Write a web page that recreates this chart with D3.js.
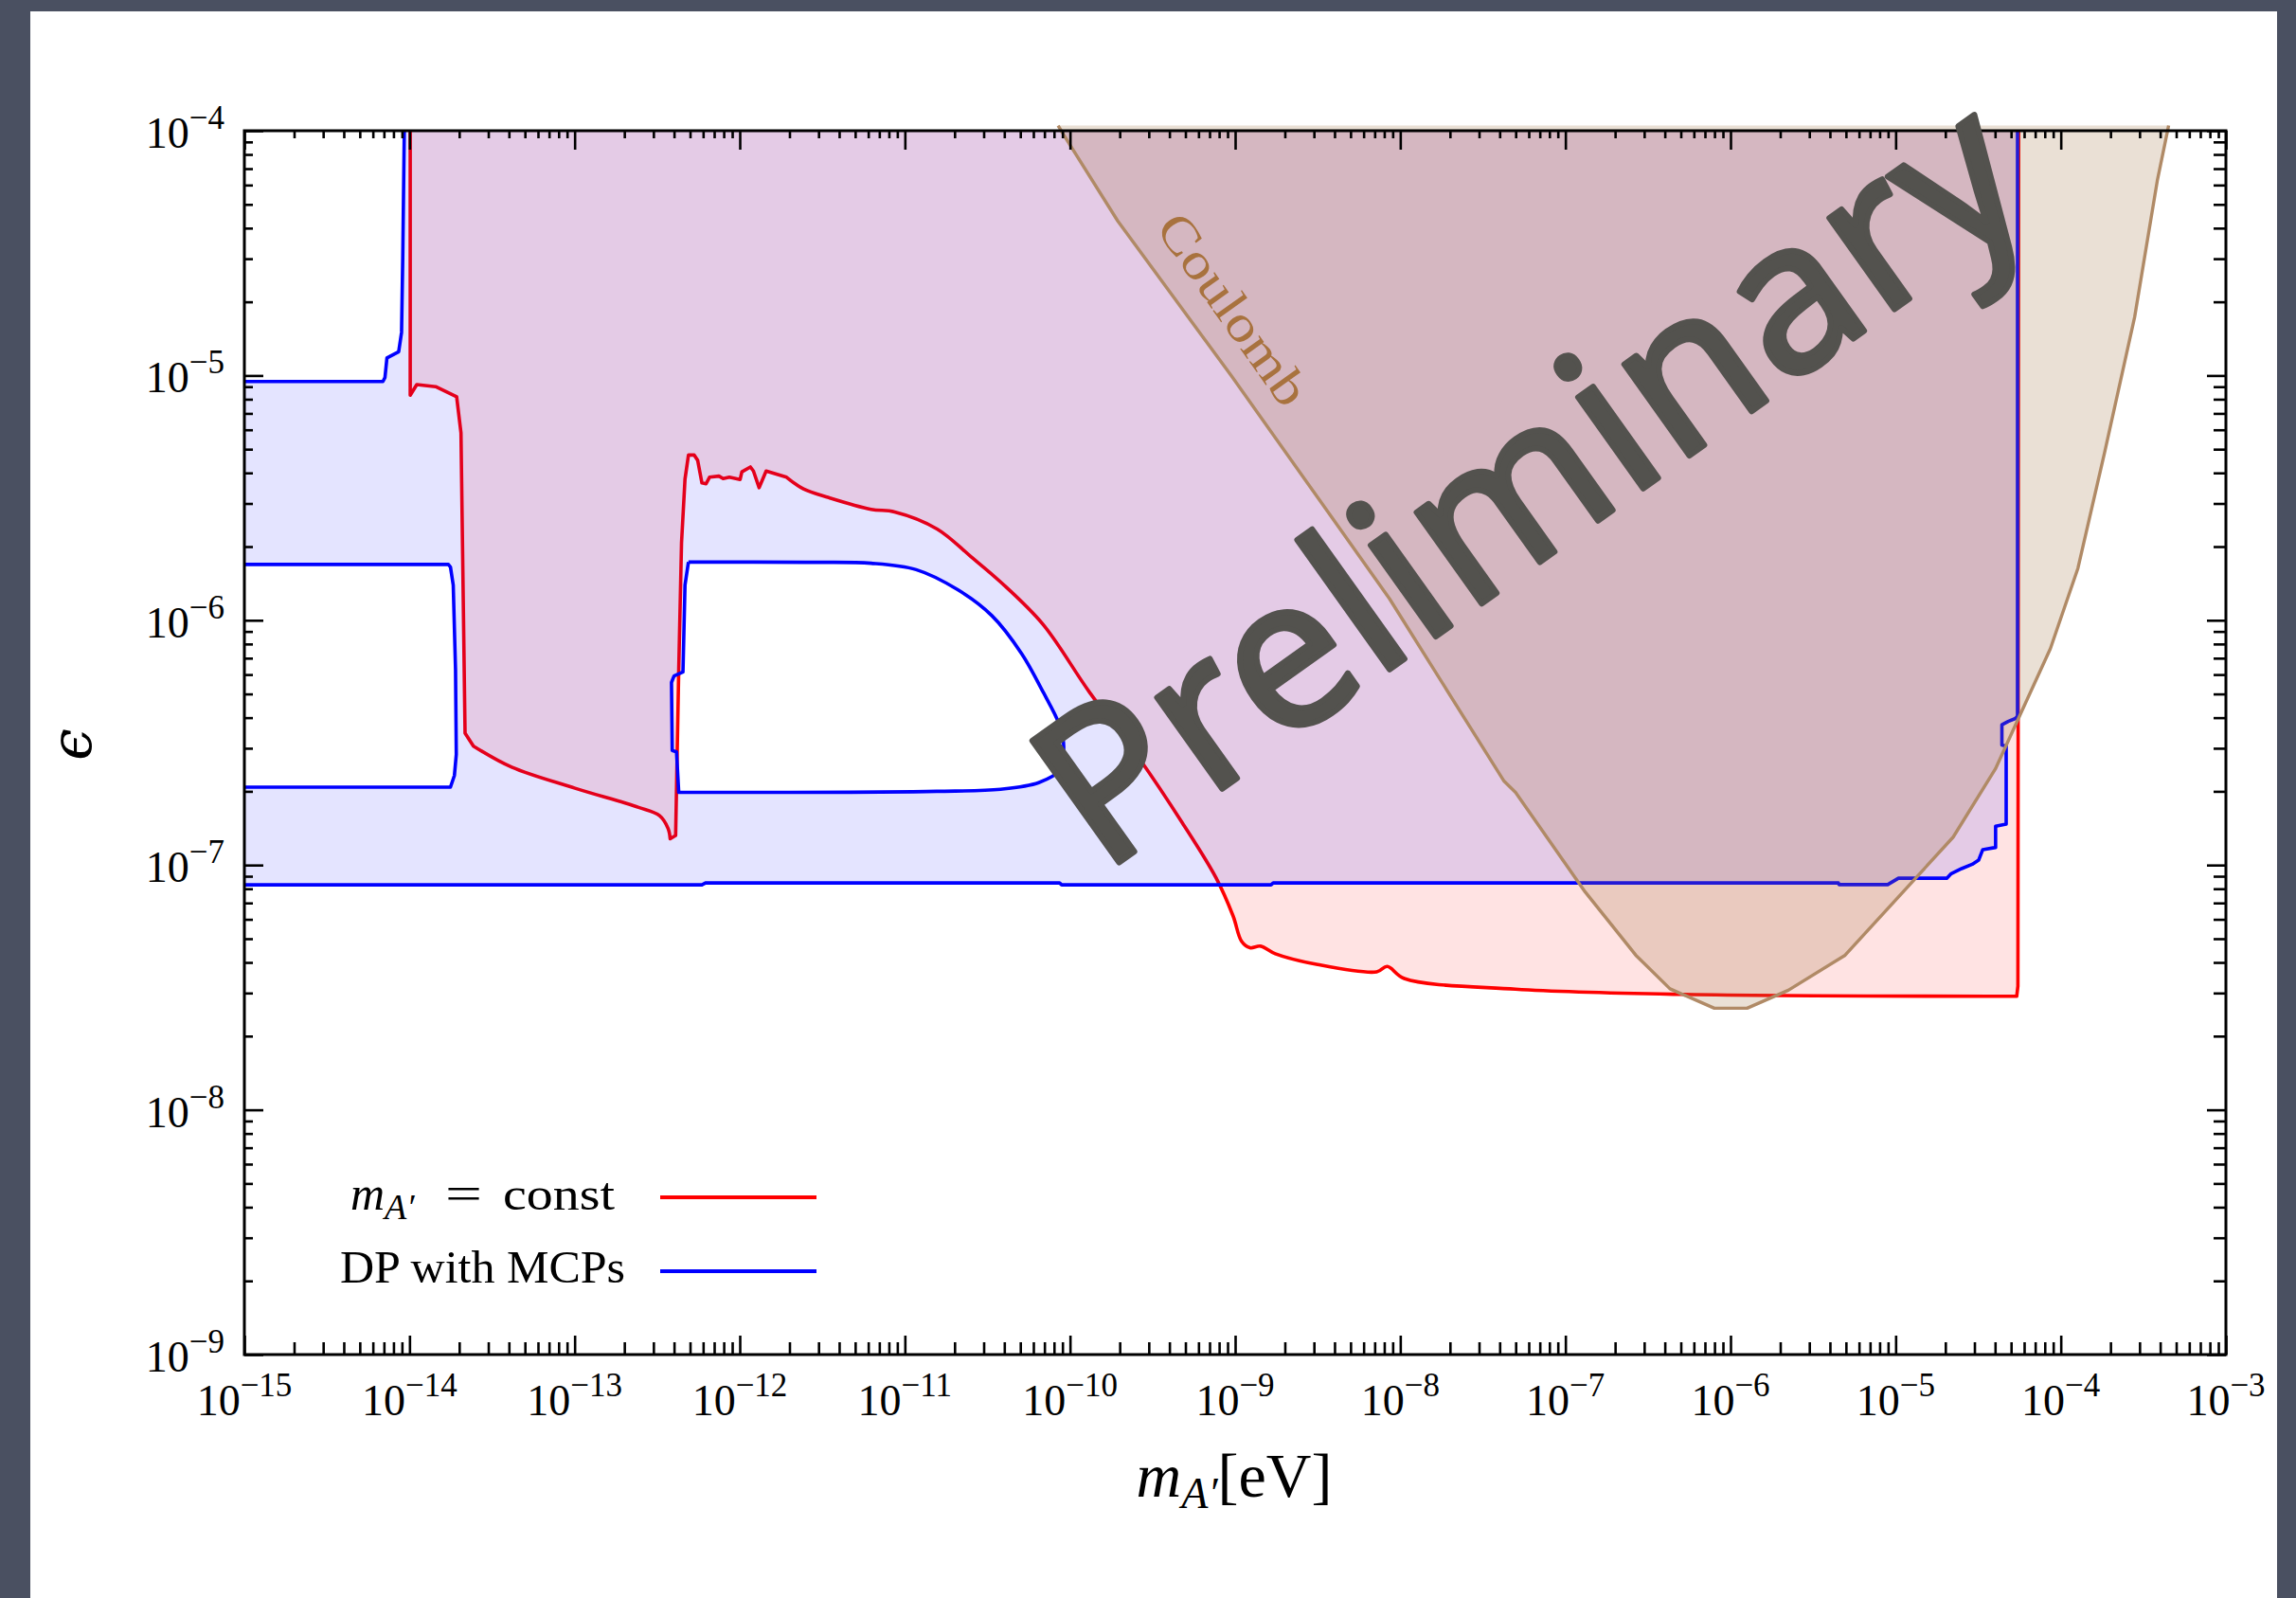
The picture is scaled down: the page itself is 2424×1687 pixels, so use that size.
<!DOCTYPE html>
<html>
<head>
<meta charset="utf-8">
<script src="https://cdn.jsdelivr.net/npm/d3@7"></script>
<style>
html, body { margin: 0; padding: 0; background: #4a5061; }
svg { display: block; }
</style>
</head>
<body>
<svg id="chart"></svg>
<script>
// axes
const xMajor = [1e-15, 1e-14, 1e-13, 1e-12, 1e-11, 1e-10, 1e-9, 1e-8, 1e-7, 1e-6, 1e-5, 1e-4, 1e-3];
const xExps = ["−15", "−14", "−13", "−12", "−11", "−10", "−9", "−8", "−7", "−6", "−5", "−4", "−3"];
const yMajor = [1e-9, 1e-8, 1e-7, 1e-6, 1e-5, 1e-4];
const yExps = ["−9", "−8", "−7", "−6", "−5", "−4"];
const minorSteps = [2, 3, 4, 5, 6, 7, 8, 9];

// m_A' = const (red), [mass eV, epsilon]
const redCurve = [
  [1.01e-14, 1e-4], [1.01e-14, 8.3e-6], [1.107e-14, 9.18e-6], [1.44e-14, 9.0e-6],
  [1.93e-14, 8.18e-6], [2.05e-14, 5.83e-6], [2.17e-14, 3.46e-7], [2.44e-14, 3.06e-7],
  [4.16e-14, 2.51e-7], [1.005e-13, 2.06e-7], [2.44e-13, 1.72e-7], [3.27e-13, 1.59e-7],
  [3.68e-13, 1.41e-7], [3.79e-13, 1.28e-7], [4.09e-13, 1.32e-7], [4.27e-13, 6.28e-7],
  [4.44e-13, 2.07e-6], [4.66e-13, 3.77e-6], [4.89e-13, 4.73e-6], [5.3e-13, 4.73e-6],
  [5.56e-13, 4.5e-6], [5.9e-13, 3.64e-6], [6.25e-13, 3.61e-6], [6.56e-13, 3.84e-6],
  [7.48e-13, 3.88e-6], [7.93e-13, 3.79e-6], [8.65e-13, 3.84e-6], [1.005e-12, 3.76e-6],
  [1.03e-12, 4.04e-6], [1.16e-12, 4.23e-6], [1.21e-12, 4.07e-6], [1.31e-12, 3.48e-6],
  [1.445e-12, 4.07e-6], [1.92e-12, 3.84e-6], [2.43e-12, 3.44e-6], [3.46e-12, 3.17e-6],
  [6.24e-12, 2.84e-6], [8.67e-12, 2.77e-6], [1.567e-11, 2.36e-6], [2.51e-11, 1.82e-6],
  [3.79e-11, 1.435e-6], [6.84e-11, 9.64e-7], [1.31e-10, 5.09e-7], [2.65e-10, 2.7e-7],
  [4.79e-10, 1.486e-7], [7.67e-10, 8.85e-8], [9.72e-10, 6.19e-8], [1.094e-9, 4.88e-8],
  [1.23e-9, 4.59e-8], [1.426e-9, 4.66e-8], [1.75e-9, 4.34e-8], [3.16e-9, 3.92e-8],
  [7.2e-9, 3.66e-8], [8.34e-9, 3.85e-8], [1.057e-8, 3.44e-8], [4.99e-8, 3.11e-8],
  [5.27e-7, 2.96e-8], [3.68e-5, 2.91e-8], [5.41e-5, 2.91e-8], [5.5e-5, 3.2e-8],
  [5.56e-5, 1e-4]
];
// which stretches of the red curve are smooth (index ranges into redCurve)
const redSmooth = [[7, 13], [33, 57]];

// DP with MCPs (blue): upper-left edge, right/bottom edge, and the two open pockets
const blueTop = [
  [1e-15, 9.45e-6], [6.9e-15, 9.45e-6], [7.1e-15, 9.8e-6], [7.3e-15, 1.18e-5],
  [8.6e-15, 1.25e-5], [8.95e-15, 1.5e-5], [9.1e-15, 3e-5], [9.3e-15, 1e-4]
];
const blueBottom = [
  [5.47e-5, 1e-4], [5.47e-5, 4.06e-7], [5.31e-5, 3.97e-7], [4.8e-5, 3.86e-7],
  [4.4e-5, 3.74e-7], [4.4e-5, 3.09e-7], [4.67e-5, 3.06e-7], [4.67e-5, 1.47e-7],
  [4.03e-5, 1.44e-7], [4.03e-5, 1.18e-7], [3.37e-5, 1.156e-7], [3.18e-5, 1.047e-7],
  [2.91e-5, 1.007e-7], [2.51e-5, 9.67e-8], [2.17e-5, 9.22e-8], [2.04e-5, 8.83e-8],
  [1.04e-5, 8.83e-8], [8.95e-6, 8.32e-8], [4.54e-6, 8.32e-8], [4.5e-6, 8.45e-8],
  [1.7e-9, 8.45e-8], [1.65e-9, 8.3e-8], [8.9e-11, 8.3e-8], [8.65e-11, 8.45e-8],
  [6.2e-13, 8.45e-8], [5.9e-13, 8.3e-8], [1e-15, 8.3e-8]
];
const blueHole1 = [
  [1e-15, 1.69e-6], [1.72e-14, 1.69e-6], [1.77e-14, 1.65e-6], [1.84e-14, 1.39e-6],
  [1.9e-14, 6.28e-7], [1.92e-14, 2.83e-7], [1.87e-14, 2.32e-7], [1.77e-14, 2.08e-7],
  [1e-15, 2.08e-7]
];
// smooth right-hand lobe, then the stepped left side
const blueHole2Curve = [
  [4.89e-13, 1.73e-6], [2.5e-12, 1.725e-6], [6.24e-12, 1.71e-6], [1.17e-11, 1.61e-6],
  [2.1e-11, 1.33e-6], [3.36e-11, 1.045e-6], [5.09e-11, 7.31e-7], [6.84e-11, 5.12e-7],
  [8.65e-11, 3.72e-7], [9.16e-11, 3.05e-7], [8.65e-11, 2.44e-7], [6.46e-11, 2.17e-7],
  [3.8e-11, 2.04e-7], [1.56e-11, 2.0e-7], [2e-12, 1.98e-7]
];
const blueHole2Steps = [
  [2e-12, 1.98e-7], [4.27e-13, 1.98e-7], [4.14e-13, 2.9e-7], [3.9e-13, 2.94e-7],
  [3.86e-13, 5.57e-7], [4.0e-13, 5.92e-7], [4.53e-13, 6.15e-7], [4.66e-13, 1.39e-6],
  [4.89e-13, 1.73e-6]
];

// Coulomb bound
const coulomb = [
  [8.47e-11, 1.05e-4], [9.62e-11, 9.12e-5], [1.945e-10, 4.28e-5], [9.49e-10, 9.97e-6],
  [3.24e-9, 3.1e-6], [8.6e-9, 1.225e-6], [4.23e-8, 2.21e-7], [4.99e-8, 1.98e-7],
  [1.318e-7, 7.76e-8], [2.67e-7, 4.28e-8], [4.3e-7, 3.12e-8], [7.98e-7, 2.6e-8],
  [1.26e-6, 2.6e-8], [2.24e-6, 3.08e-8], [4.94e-6, 4.28e-8], [2.23e-5, 1.3e-7],
  [4.02e-5, 2.47e-7], [8.65e-5, 7.66e-7], [1.27e-4, 1.63e-6], [1.84e-4, 4.83e-6],
  [2.8e-4, 1.73e-5], [3.84e-4, 6.24e-5], [4.5e-4, 1.05e-4]
];

const legendItems = [
  { label: "const", color: "#ff0000" },
  { label: "DP with MCPs", color: "#0000ff" }
];

const W = 2424, H = 1687;
const plot = { left: 258, right: 2350, top: 138, bottom: 1430 };
const serif = "'Liberation Serif', 'Times New Roman', serif";

const svg = d3.select("#chart").attr("width", W).attr("height", H);

svg.append("rect").attr("width", W).attr("height", H).attr("fill", "#4a5061");
svg.append("rect").attr("x", 32).attr("y", 12).attr("width", 2372).attr("height", H - 12).attr("fill", "#ffffff");

const x = d3.scaleLog().domain([1e-15, 1e-3]).range([plot.left, plot.right]);
const y = d3.scaleLog().domain([1e-9, 1e-4]).range([plot.bottom, plot.top]);
const line = d3.line().x(d => x(d[0])).y(d => y(d[1]));
const smooth = d3.line().x(d => x(d[0])).y(d => y(d[1])).curve(d3.curveCatmullRom.alpha(0.5));

// join straight and smooth stretches of one polyline into a single path
const mixedPath = (pts, smoothRanges) => {
  const cuts = [];
  let i = 0;
  smoothRanges.forEach(([a, b]) => {
    if (a > i) cuts.push([i, a, line]);
    cuts.push([a, b, smooth]);
    i = b;
  });
  if (i < pts.length - 1) cuts.push([i, pts.length - 1, line]);
  return cuts.map(([a, b, gen], k) => {
    const d = gen(pts.slice(a, b + 1));
    return k === 0 ? d : d.replace(/^M[^LC]*/, "");
  }).join("");
};

const defs = svg.append("defs");
defs.append("clipPath").attr("id", "plotClip")
  .append("rect").attr("x", plot.left).attr("y", plot.top)
  .attr("width", plot.right - plot.left).attr("height", plot.bottom - plot.top);
defs.append("clipPath").attr("id", "coulClip")
  .append("rect").attr("x", plot.left).attr("y", plot.top - 7)
  .attr("width", plot.right - plot.left).attr("height", plot.bottom - plot.top + 7);

const g = svg.append("g").attr("clip-path", "url(#plotClip)");

// red region
const redPath = mixedPath(redCurve, redSmooth);
g.append("path").attr("d", redPath + "Z")
  .attr("fill", "#ff0000").attr("fill-opacity", 0.11);
g.append("path").attr("d", redPath)
  .attr("fill", "none").attr("stroke", "#ff0000").attr("stroke-width", 3.6)
  .attr("stroke-linejoin", "round");

// blue region with its two pockets
const blueOuter = blueTop.concat(blueBottom);
const hole2 = smooth(blueHole2Curve) + line(blueHole2Steps).replace(/^M[^L]*/, "");
g.append("path")
  .attr("d", line(blueOuter) + "Z" + line(blueHole1) + "Z" + hole2 + "Z")
  .attr("fill", "#0000ff").attr("fill-opacity", 0.105).attr("fill-rule", "evenodd");
[line(blueTop), line(blueBottom), line(blueHole1), hole2].forEach(d => {
  g.append("path").attr("d", d)
    .attr("fill", "none").attr("stroke", "#0000ff").attr("stroke-width", 3.6)
    .attr("stroke-linejoin", "round");
});

// Coulomb
const gc = svg.append("g").attr("clip-path", "url(#coulClip)");
gc.append("path").attr("d", line(coulomb) + "Z")
  .attr("fill", "rgb(160,112,64)").attr("fill-opacity", 0.22);
gc.append("path").attr("d", line(coulomb))
  .attr("fill", "none").attr("stroke", "#b08a66").attr("stroke-width", 3.4)
  .attr("stroke-linejoin", "round");

svg.append("text")
  .attr("transform", "translate(1287,337) rotate(54.6)")
  .attr("text-anchor", "middle")
  .attr("font-family", serif).attr("font-size", 54)
  .attr("textLength", 236).attr("lengthAdjust", "spacingAndGlyphs")
  .attr("fill", "#a8723e")
  .text("Coulomb");

// axes: ticks point inward on all four sides
const minorOf = majors => majors.slice(0, -1).flatMap(m => minorSteps.map(s => m * s));
const axisStyle = sel => {
  sel.select(".domain").remove();
  sel.selectAll("line").attr("stroke", "#000").attr("stroke-width", 2.6);
  sel.selectAll("text").remove();
};
const addAxis = (axis, tr) => svg.append("g").attr("transform", tr).call(axis).call(axisStyle);

addAxis(d3.axisBottom(x).tickValues(xMajor).tickSize(-20).tickSizeOuter(0), `translate(0,${plot.bottom})`);
addAxis(d3.axisBottom(x).tickValues(minorOf(xMajor)).tickSize(-13).tickSizeOuter(0), `translate(0,${plot.bottom})`);
addAxis(d3.axisTop(x).tickValues(xMajor).tickSize(-20).tickSizeOuter(0), `translate(0,${plot.top})`);
addAxis(d3.axisTop(x).tickValues(minorOf(xMajor)).tickSize(-8).tickSizeOuter(0), `translate(0,${plot.top})`);
addAxis(d3.axisLeft(y).tickValues(yMajor).tickSize(-20).tickSizeOuter(0), `translate(${plot.left},0)`);
addAxis(d3.axisLeft(y).tickValues(minorOf(yMajor)).tickSize(-9).tickSizeOuter(0), `translate(${plot.left},0)`);
addAxis(d3.axisRight(y).tickValues(yMajor).tickSize(-20).tickSizeOuter(0), `translate(${plot.right},0)`);
addAxis(d3.axisRight(y).tickValues(minorOf(yMajor)).tickSize(-13).tickSizeOuter(0), `translate(${plot.right},0)`);

svg.append("rect")
  .attr("x", plot.left).attr("y", plot.top)
  .attr("width", plot.right - plot.left).attr("height", plot.bottom - plot.top)
  .attr("fill", "none").attr("stroke", "#000").attr("stroke-width", 3);

// tick labels
const xl = svg.append("g").selectAll("text").data(xMajor).enter().append("text")
  .attr("x", d => x(d)).attr("y", 1494)
  .attr("text-anchor", "middle").attr("font-family", serif).attr("font-size", 46).attr("fill", "#000");
xl.append("tspan").text("10");
xl.append("tspan").attr("font-size", 35).attr("dy", -20).text((d, i) => xExps[i]);

const yl = svg.append("g").selectAll("text").data(yMajor).enter().append("text")
  .attr("x", 237).attr("y", d => y(d) + 18)
  .attr("text-anchor", "end").attr("font-family", serif).attr("font-size", 46).attr("fill", "#000");
yl.append("tspan").text("10");
yl.append("tspan").attr("font-size", 35).attr("dy", -20).text((d, i) => yExps[i]);

// axis titles
const xt = svg.append("text").attr("x", 1303).attr("y", 1580)
  .attr("text-anchor", "middle").attr("font-family", serif).attr("font-size", 66).attr("fill", "#000");
xt.append("tspan").attr("font-style", "italic").text("m");
xt.append("tspan").attr("font-style", "italic").attr("font-size", 46).attr("dy", 12).text("A′");
xt.append("tspan").attr("dy", -12).text("[eV]");

svg.append("text")
  .attr("transform", "translate(96,786) rotate(-90)")
  .attr("text-anchor", "middle").attr("font-family", "'DejaVu Serif', serif").attr("font-style", "italic")
  .attr("font-size", 60).attr("fill", "#000")
  .text("ϵ");

// legend
const legY = [1264, 1342];
const legend = svg.append("g").attr("font-family", serif).attr("fill", "#000");
const lm = legend.append("text").attr("x", 370).attr("y", legY[0] + 13).attr("font-size", 50);
lm.append("tspan").attr("font-style", "italic").text("m");
lm.append("tspan").attr("font-style", "italic").attr("font-size", 38).attr("dy", 10).text("A′");
legend.append("text").attr("x", 470).attr("y", legY[0] + 13).attr("font-size", 50)
  .attr("textLength", 39).attr("lengthAdjust", "spacingAndGlyphs").text("=");
legend.append("text").attr("x", 531).attr("y", legY[0] + 13).attr("font-size", 49)
  .attr("textLength", 118).attr("lengthAdjust", "spacingAndGlyphs").text(legendItems[0].label);
legend.append("text").attr("x", 359).attr("y", legY[1] + 12).attr("font-size", 48)
  .attr("textLength", 301).attr("lengthAdjust", "spacingAndGlyphs")
  .text(legendItems[1].label);
legendItems.forEach((d, i) => {
  svg.append("line").attr("x1", 697).attr("x2", 862).attr("y1", legY[i]).attr("y2", legY[i])
    .attr("stroke", d.color).attr("stroke-width", 4);
});

// watermark
svg.append("text")
  .attr("transform", "translate(1164,923) rotate(-35.5)")
  .attr("font-family", "'Noto Sans', sans-serif").attr("font-size", 221)
  .attr("fill", "#53524e").attr("stroke", "#53524e").attr("stroke-width", 6)
  .attr("stroke-linejoin", "round")
  .attr("textLength", 1215).attr("lengthAdjust", "spacing")
  .text("Preliminary");
</script>
</body>
</html>
